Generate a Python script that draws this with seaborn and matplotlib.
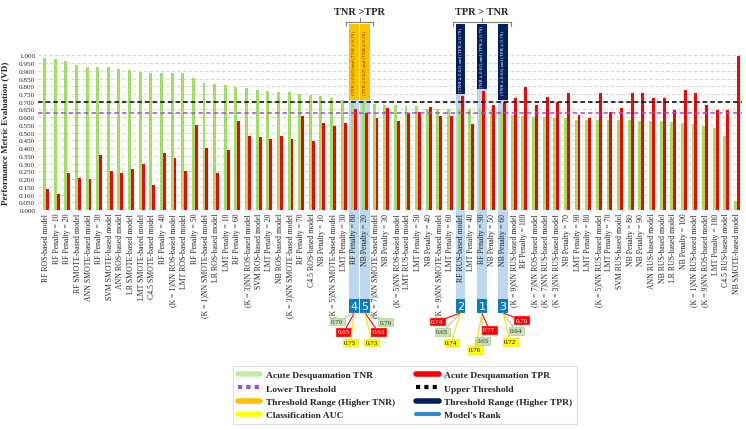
import numpy as np
import pandas as pd
import matplotlib.pyplot as plt
from matplotlib.patches import Rectangle
from matplotlib.lines import Line2D
import seaborn as sns

# Models, sorted by TNR as in the original figure
models = [
    'RF ROS-based model', 'RF Penalty = 10', 'RF Penalty = 20', 'RF SMOTE-based model',
    'ANN SMOTE-based model', 'RF Penalty = 30', 'SVM SMOTE-based model', 'ANN ROS-based model',
    'LR SMOTE-based model', 'LMT SMOTE-based model', 'C4.5 SMOTE-based model', 'RF Penalty = 40',
    '(K = 1)NN ROS-based model', 'LMT ROS-based model', 'RF Penalty = 50',
    '(K = 1)NN SMOTE-based model', 'LR ROS-based model', 'LMT Penalty = 10', 'RF Penalty = 60',
    '(K = 3)NN ROS-based model', 'SVM ROS-based model', 'LMT Penalty = 20', 'NB ROS-based model',
    '(K = 3)NN SMOTE-based model', 'RF Penalty = 70', 'C4.5 ROS-based model', 'NB Penalty = 10',
    '(K = 5)NN SMOTE-based model', 'LMT Penalty = 30', 'RF Penalty = 80', 'NB Penalty = 20',
    '(K = 7)NN SMOTE-based model', 'NB Penalty = 30', '(K = 5)NN ROS-based model',
    'LMT RUS-based model', 'LMT Penalty = 50', 'NB Penalty = 40', '(K = 9)NN SMOTE-based model',
    'LMT Penalty = 60', 'RF RUS-based model', 'LMT Penalty = 40', 'RF Penalty = 90',
    'NB Penalty = 50', 'NB Penalty = 60', '(K = 9)NN RUS-based model', 'RF Penalty = 100',
    '(K = 7)NN ROS-based model', '(K = 7)NN RUS-based model', '(K = 3)NN RUS-based model',
    'NB Penalty = 70', 'LMT Penalty = 90', 'LMT Penalty = 80', '(K = 5)NN RUS-based model',
    'LMT Penalty = 70', 'SVM RUS-based model', 'NB Penalty = 80', 'NB Penalty = 90',
    'ANN RUS-based model', 'NB RUS-based model', 'LR RUS-based model', 'NB Penalty = 100',
    '(K = 1)NN RUS-based model', '(K = 9)NN ROS-based model', 'LMT Penalty = 100',
    'C4.5 RUS-based model', 'NB SMOTE-based model',
]

tnr = [
    0.985, 0.974, 0.961, 0.937, 0.927, 0.924, 0.922, 0.910, 0.905, 0.890,
    0.886, 0.886, 0.886, 0.884, 0.853, 0.823, 0.815, 0.806, 0.797, 0.791,
    0.778, 0.772, 0.765, 0.761, 0.752, 0.743, 0.735, 0.722, 0.711, 0.700,
    0.700, 0.683, 0.681, 0.681, 0.675, 0.670, 0.655, 0.655, 0.653, 0.652,
    0.650, 0.650, 0.644, 0.640, 0.614, 0.608, 0.601, 0.599, 0.595, 0.593,
    0.582, 0.582, 0.582, 0.582, 0.580, 0.580, 0.576, 0.574, 0.574, 0.567,
    0.562, 0.556, 0.541, 0.528, 0.476, 0.056,
]

tpr = [
    0.134, 0.106, 0.241, 0.209, 0.198, 0.354, 0.252, 0.241, 0.263, 0.295,
    0.160, 0.366, 0.336, 0.252, 0.552, 0.399, 0.241, 0.386, 0.576, 0.479,
    0.470, 0.457, 0.481, 0.457, 0.606, 0.448, 0.565, 0.543, 0.565, 0.650,
    0.630, 0.593, 0.657, 0.576, 0.625, 0.636, 0.666, 0.606, 0.606, 0.740,
    0.554, 0.770, 0.677, 0.700, 0.722, 0.795, 0.677, 0.731, 0.701, 0.754,
    0.617, 0.593, 0.754, 0.636, 0.657, 0.754, 0.754, 0.722, 0.722, 0.649,
    0.776, 0.754, 0.679, 0.649, 0.649, 0.995,
]

# Top five models: rank and classification AUC
ranks = {'RF Penalty = 90': 1, 'RF RUS-based model': 2, 'NB Penalty = 60': 3,
         'RF Penalty = 80': 4, 'NB Penalty = 20': 5}
auc = {'RF Penalty = 90': 0.76, 'RF RUS-based model': 0.74, 'NB Penalty = 60': 0.72,
       'RF Penalty = 80': 0.75, 'NB Penalty = 20': 0.73}

lower_thr = 0.625
upper_thr = 0.70

green = '#9EE063'
red = '#FF0000'
purple = '#A04ED8'
orange = '#FFC000'
navy = '#002060'
yellow = '#FFFF00'
rank_blue = '#0B7BC4'
light_blue = '#BDD7EE'

n = len(models)
df = pd.DataFrame({
    'model': models * 2,
    'metric': ['Acute Desquamation TNR'] * n + ['Acute Desquamation TPR'] * n,
    'value': tnr + tpr,
})

sns.set_style('white')
plt.rcParams['font.family'] = ['Liberation Serif', 'DejaVu Serif']

W, H = 746, 431
fig = plt.figure(figsize=(W / 100, H / 100), dpi=100)
ax = fig.add_axes([38 / W, 1 - 211 / H, 704 / W, 191 / H])

sns.barplot(data=df, x='model', y='value', hue='metric', palette=[green, red],
            width=0.55, saturation=1, legend=False, ax=ax, linewidth=0)
for p in ax.patches:
    p.set_zorder(2)

ax.set_xlim(-0.753, 65.47)
ax.set_ylim(0, 1.235)
yt = np.arange(0, 1.0001, 0.05)
ax.set_yticks(yt)
ax.set_yticklabels([f'{t:.3f}' for t in yt], fontsize=5.2)
ax.yaxis.grid(True, color='#d6d6d6', lw=0.8, ls=(0, (3, 2)))
ax.set_axisbelow(True)
ax.tick_params(axis='both', length=0, pad=2)
ax.tick_params(axis='x', labelrotation=90, labelsize=5.6)
for lab in ax.get_xticklabels():
    lab.set_va('top')
sns.despine(ax=ax, left=True, bottom=True)
ax.set_xlabel('')
ax.set_ylabel('Performance Metric Evaluation (VD)', fontweight='bold', fontsize=6.5)
ax.yaxis.set_label_coords(-0.041, 0.408)

ax.axhline(upper_thr, color='black', ls=(0, (3, 2)), lw=1.1, zorder=3)
ax.axhline(lower_thr, color=purple, ls=(0, (3, 2)), lw=1.1, zorder=3)

# highlighted top models
col_bottom = -0.575
rank_h = 0.091
box_top = 1.20
label_off = {  # pixel offsets of the TNR / TPR / AUC labels from the rank box
    1: [(0.5, 28), (7.5, 17), (-6.5, 37)],
    2: [(-18.5, 19), (-23.5, 8.5), (-9.5, 29.5)],
    3: [(13, 18), (18.5, 7), (7, 29)],
    4: [(-17, 8.5), (-10.5, 19), (-4, 29.5)],
    5: [(21, 9), (13.5, 19), (7, 29.5)],
}
groups = {'TNR >TPR': [], 'TPR > TNR': []}
for name, r in ranks.items():
    i = models.index(name)
    a, b = tnr[i], tpr[i]
    top = max(a, b) + 0.012
    ax.add_patch(Rectangle((i - 0.46, col_bottom), 0.92, top - col_bottom,
                           color=light_blue, zorder=0.3, clip_on=False, lw=0))
    if a > b:
        fc, tc = orange, '#5a4200'
        txt = f'(TPR ≥ {lower_thr:.2f}) and (TNR ≥ {upper_thr:.2f})'
        groups['TNR >TPR'].append(i)
    else:
        fc, tc = navy, 'white'
        txt = f'(TNR ≥ {lower_thr:.2f}) and (TPR ≥ {upper_thr:.2f})'
        groups['TPR > TNR'].append(i)
    ax.add_patch(Rectangle((i - 0.46, top), 0.92, box_top - top, color=fc,
                           zorder=4, clip_on=False, lw=0))
    ax.text(i, (top + box_top) / 2, txt, rotation=90, ha='center', va='center',
            fontsize=3.6, color=tc, zorder=5, clip_on=False)
    # rank box
    ax.add_patch(Rectangle((i - 0.46, col_bottom - rank_h), 0.92, rank_h,
                           color=rank_blue, zorder=4, clip_on=False, lw=0))
    ax.text(i, col_bottom - rank_h / 2, str(r), ha='center', va='center',
            fontsize=8, color='white', family='DejaVu Sans', zorder=5, clip_on=False)
    # value labels
    specs = [(a, '#C6E0B4', '#333333', '#A9D18E'),
             (b, red, 'white', red),
             (auc[name], yellow, 'black', '#F2E200')]
    for (v, bfc, btc, lc), (dx, dy) in zip(specs, label_off[r]):
        ax.annotate(f'{v:.2f}', xy=(i, col_bottom - rank_h), xycoords='data',
                    xytext=(dx / 1.389, -dy / 1.389), textcoords='offset points',
                    ha='center', va='center', fontsize=5, color=btc,
                    bbox=dict(boxstyle='square,pad=0.2', fc=bfc, ec=lc, lw=0.5),
                    arrowprops=dict(arrowstyle='-', color=lc, lw=0.8,
                                    shrinkA=0, shrinkB=0),
                    annotation_clip=False, zorder=5)

# brackets over the two groups
for title, idx in groups.items():
    x0, x1 = min(idx) - 0.75, max(idx) + 0.75
    xm = (min(idx) + max(idx)) / 2
    ax.plot([x0, x0, x1, x1], [1.187, 1.213, 1.213, 1.187], color='#7f7f7f',
            lw=0.8, clip_on=False, zorder=5)
    ax.plot([xm, xm], [1.213, 1.24], color='#7f7f7f', lw=0.8, clip_on=False, zorder=5)
    ax.text(xm, 1.285, title, ha='center', va='center', fontsize=7.5,
            fontweight='bold', clip_on=False)

handles = [
    Line2D([], [], color='#C5EBAA', lw=4),
    Line2D([], [], color=purple, lw=3, ls=(0, (1, 1))),
    Line2D([], [], color=orange, lw=4),
    Line2D([], [], color=yellow, lw=4),
    Line2D([], [], color=red, lw=4),
    Line2D([], [], color='black', lw=3, ls=(0, (1, 1))),
    Line2D([], [], color=navy, lw=4),
    Line2D([], [], color='#2E8BCB', lw=3),
]
labels = ['Acute Desquamation TNR', 'Lower Threshold', 'Threshold Range (Higher TNR)',
          'Classification AUC', 'Acute Desquamation TPR', 'Upper Threshold',
          'Threshold Range (Higher TPR)', "Model's Rank"]
leg = fig.legend(handles, labels, ncol=2, loc='center',
                 bbox_to_anchor=(405 / W, 1 - 396 / H), frameon=True, fancybox=False,
                 edgecolor='#d9d9d9', prop={'weight': 'bold', 'size': 6.8},
                 handlelength=2.4, columnspacing=2.2, labelspacing=0.5,
                 borderpad=0.5, handletextpad=0.6)
leg.get_frame().set_linewidth(0.8)

fig.savefig('out.png', dpi=100)
